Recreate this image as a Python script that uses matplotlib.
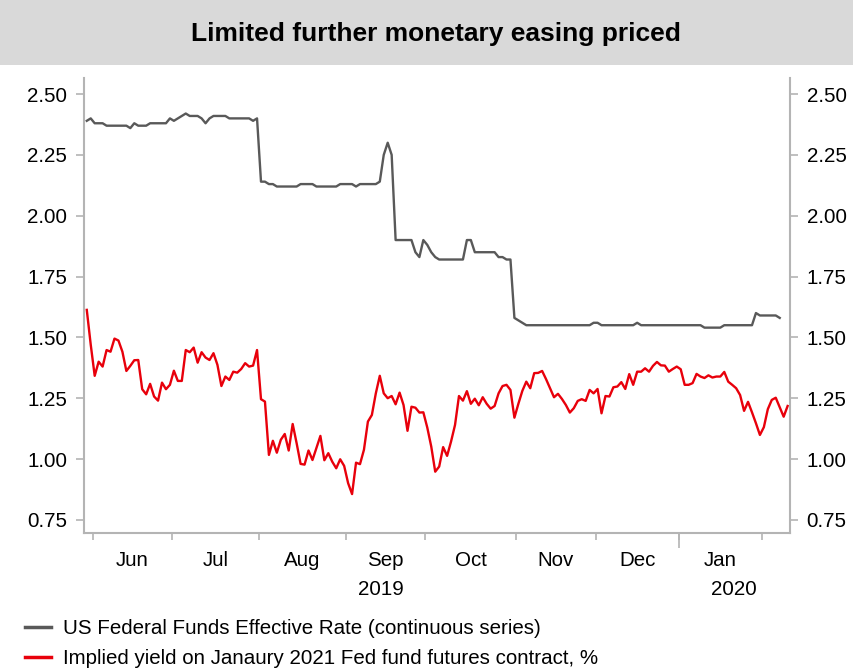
import matplotlib
matplotlib.use("Agg")
import matplotlib.pyplot as plt
from matplotlib.lines import Line2D
from matplotlib.patches import Rectangle
import numpy as np
import pandas as pd

plt.rcParams['font.family'] = ['Liberation Sans', 'DejaVu Sans']

# Trading days, US market holidays dropped
holidays = ['2019-07-04', '2019-09-02', '2019-11-28', '2019-12-25', '2020-01-01', '2020-01-20']
dates = pd.bdate_range('2019-05-30', '2020-02-11', freq='C', holidays=holidays)

# US Federal Funds Effective Rate (continuous series), stops a few days before the futures
effr = [
    2.39, 2.40, 2.38, 2.38, 2.38, 2.37, 2.37, 2.37, 2.37, 2.37,
    2.37, 2.36, 2.38, 2.37, 2.37, 2.37, 2.38, 2.38, 2.38, 2.38,
    2.38, 2.40, 2.39, 2.40, 2.41, 2.42, 2.41, 2.41, 2.41, 2.40,
    2.38, 2.40, 2.41, 2.41, 2.41, 2.41, 2.40, 2.40, 2.40, 2.40,
    2.40, 2.40, 2.39, 2.40, 2.14, 2.14, 2.13, 2.13, 2.12, 2.12,
    2.12, 2.12, 2.12, 2.12, 2.13, 2.13, 2.13, 2.13, 2.12, 2.12,
    2.12, 2.12, 2.12, 2.12, 2.13, 2.13, 2.13, 2.13, 2.12, 2.13,
    2.13, 2.13, 2.13, 2.13, 2.14, 2.25, 2.30, 2.25, 1.90, 1.90,
    1.90, 1.90, 1.90, 1.85, 1.83, 1.90, 1.88, 1.85, 1.83, 1.82,
    1.82, 1.82, 1.82, 1.82, 1.82, 1.82, 1.90, 1.90, 1.85, 1.85,
    1.85, 1.85, 1.85, 1.85, 1.83, 1.83, 1.82, 1.82, 1.58, 1.57,
    1.56, 1.55, 1.55, 1.55, 1.55, 1.55, 1.55, 1.55, 1.55, 1.55,
    1.55, 1.55, 1.55, 1.55, 1.55, 1.55, 1.55, 1.55, 1.56, 1.56,
    1.55, 1.55, 1.55, 1.55, 1.55, 1.55, 1.55, 1.55, 1.55, 1.56,
    1.55, 1.55, 1.55, 1.55, 1.55, 1.55, 1.55, 1.55, 1.55, 1.55,
    1.55, 1.55, 1.55, 1.55, 1.55, 1.55, 1.54, 1.54, 1.54, 1.54,
    1.54, 1.55, 1.55, 1.55, 1.55, 1.55, 1.55, 1.55, 1.55, 1.60,
    1.59, 1.59, 1.59, 1.59, 1.59, 1.58,
]

# Implied yield on the January 2021 fed funds futures contract, %
futures = [
    1.613, 1.470, 1.342, 1.400, 1.380, 1.448, 1.441, 1.495, 1.487, 1.441,
    1.362, 1.383, 1.406, 1.407, 1.287, 1.266, 1.309, 1.257, 1.240, 1.314,
    1.287, 1.305, 1.363, 1.321, 1.321, 1.448, 1.439, 1.458, 1.396, 1.439,
    1.417, 1.407, 1.435, 1.387, 1.300, 1.339, 1.325, 1.359, 1.355, 1.370,
    1.394, 1.380, 1.384, 1.448, 1.246, 1.236, 1.017, 1.075, 1.026, 1.079,
    1.103, 1.035, 1.144, 1.065, 0.980, 0.977, 1.035, 0.996, 1.045, 1.095,
    0.995, 1.024, 0.989, 0.962, 0.999, 0.972, 0.901, 0.856, 0.985, 0.979,
    1.038, 1.154, 1.181, 1.270, 1.342, 1.270, 1.250, 1.259, 1.225, 1.273,
    1.222, 1.116, 1.215, 1.211, 1.191, 1.192, 1.129, 1.051, 0.948, 0.969,
    1.049, 1.013, 1.072, 1.140, 1.259, 1.240, 1.279, 1.227, 1.248, 1.221,
    1.254, 1.227, 1.207, 1.218, 1.270, 1.300, 1.305, 1.284, 1.170, 1.227,
    1.280, 1.318, 1.291, 1.353, 1.354, 1.362, 1.328, 1.291, 1.254, 1.268,
    1.247, 1.222, 1.191, 1.209, 1.239, 1.246, 1.239, 1.284, 1.270, 1.288,
    1.188, 1.259, 1.257, 1.295, 1.298, 1.316, 1.288, 1.349, 1.305, 1.359,
    1.359, 1.373, 1.359, 1.383, 1.399, 1.385, 1.384, 1.359, 1.370, 1.380,
    1.369, 1.305, 1.305, 1.312, 1.350, 1.339, 1.333, 1.344, 1.335, 1.339,
    1.339, 1.358, 1.318, 1.305, 1.291, 1.263, 1.198, 1.235, 1.192, 1.147,
    1.099, 1.131, 1.205, 1.243, 1.252, 1.213, 1.174, 1.218,
]

title = "Limited further monetary easing priced"
label_effr = "US Federal Funds Effective Rate (continuous series)"
label_fut = "Implied yield on Janaury 2021 Fed fund futures contract, %"
yticks = [0.75, 1.00, 1.25, 1.50, 1.75, 2.00, 2.25, 2.50]

GREY_LINE = '#595959'
RED = '#e8000b'
AXIS = '#b4b4b4'
FS = 14.8

# trading-day index on the x axis, so weekends don't leave gaps
x = np.arange(len(dates))
ym = np.asarray(dates.year * 12 + dates.month)
starts = np.flatnonzero(ym[1:] != ym[:-1]) + 1
bounds = starts - 0.5
month_mid = (bounds[:-1] + bounds[1:]) / 2
month_lab = [d.strftime('%b') for d in dates[starts[:-1]]]

fig = plt.figure(figsize=(8.54, 6.72), dpi=100)
W, H = 854, 672

# header band
fig.patches.append(Rectangle((0, 1 - 65 / H), 1, 65 / H, transform=fig.transFigure,
                             facecolor='#d9d9d9', edgecolor='none', zorder=0))
fig.text(0.51, 1 - 34 / H, title, ha='center', va='center', fontsize=19, weight='bold')

ax = fig.add_axes([84 / W, (H - 533) / H, (790 - 84) / W, (533 - 78) / H])
ax.plot(x[:len(effr)], effr, color=GREY_LINE, lw=1.7, solid_joinstyle='round')
ax.plot(x[:len(futures)], futures, color=RED, lw=1.7, solid_joinstyle='round')

ax.set_xlim(-0.7, 177.6)
ax.set_ylim(0.696, 2.566)

ax.spines['top'].set_visible(False)
for s in ('left', 'right', 'bottom'):
    ax.spines[s].set_color(AXIS)
    ax.spines[s].set_linewidth(1.5)

ax.set_yticks(yticks)
ax.set_yticklabels([f'{v:.2f}' for v in yticks])
ax.tick_params(axis='y', which='both', direction='out', length=6, width=1.2, color=AXIS,
               labelsize=FS, right=True, labelright=True, pad=6)

ax.set_xticks(bounds)
ax.set_xticklabels([])
ax.set_xticks(month_mid, minor=True)
ax.set_xticklabels(month_lab, minor=True)
ax.tick_params(axis='x', which='major', direction='out', length=5, width=1.2, color=AXIS)
ax.tick_params(axis='x', which='minor', length=0, labelsize=FS, pad=13)

# year row: longer tick where the year turns, year name centred on its span
yb = bounds[np.asarray(dates[starts].month) == 1]
x0, x1 = ax.get_xlim()
year_mid = [(x0 + yb[0]) / 2, (yb[0] + x1) / 2]
sec = ax.secondary_xaxis('bottom')
sec.spines['bottom'].set_visible(False)
sec.set_xticks(yb)
sec.set_xticklabels([])
sec.set_xticks(year_mid, minor=True)
sec.set_xticklabels(['2019', '2020'], minor=True)
sec.tick_params(axis='x', which='major', direction='out', length=11, width=1.2, color=AXIS)
sec.tick_params(axis='x', which='minor', length=0, labelsize=FS, pad=34)

handles = [Line2D([], [], color=GREY_LINE, lw=2.5), Line2D([], [], color=RED, lw=2.5)]
fig.legend(handles, [label_effr, label_fut], loc='upper left',
           bbox_to_anchor=(25 / W, 1 - 619 / H), frameon=False, fontsize=FS,
           handlelength=1.25, handletextpad=0.6, labelspacing=0.55, borderaxespad=0,
           borderpad=0)

fig.savefig('out.png', dpi=100)
